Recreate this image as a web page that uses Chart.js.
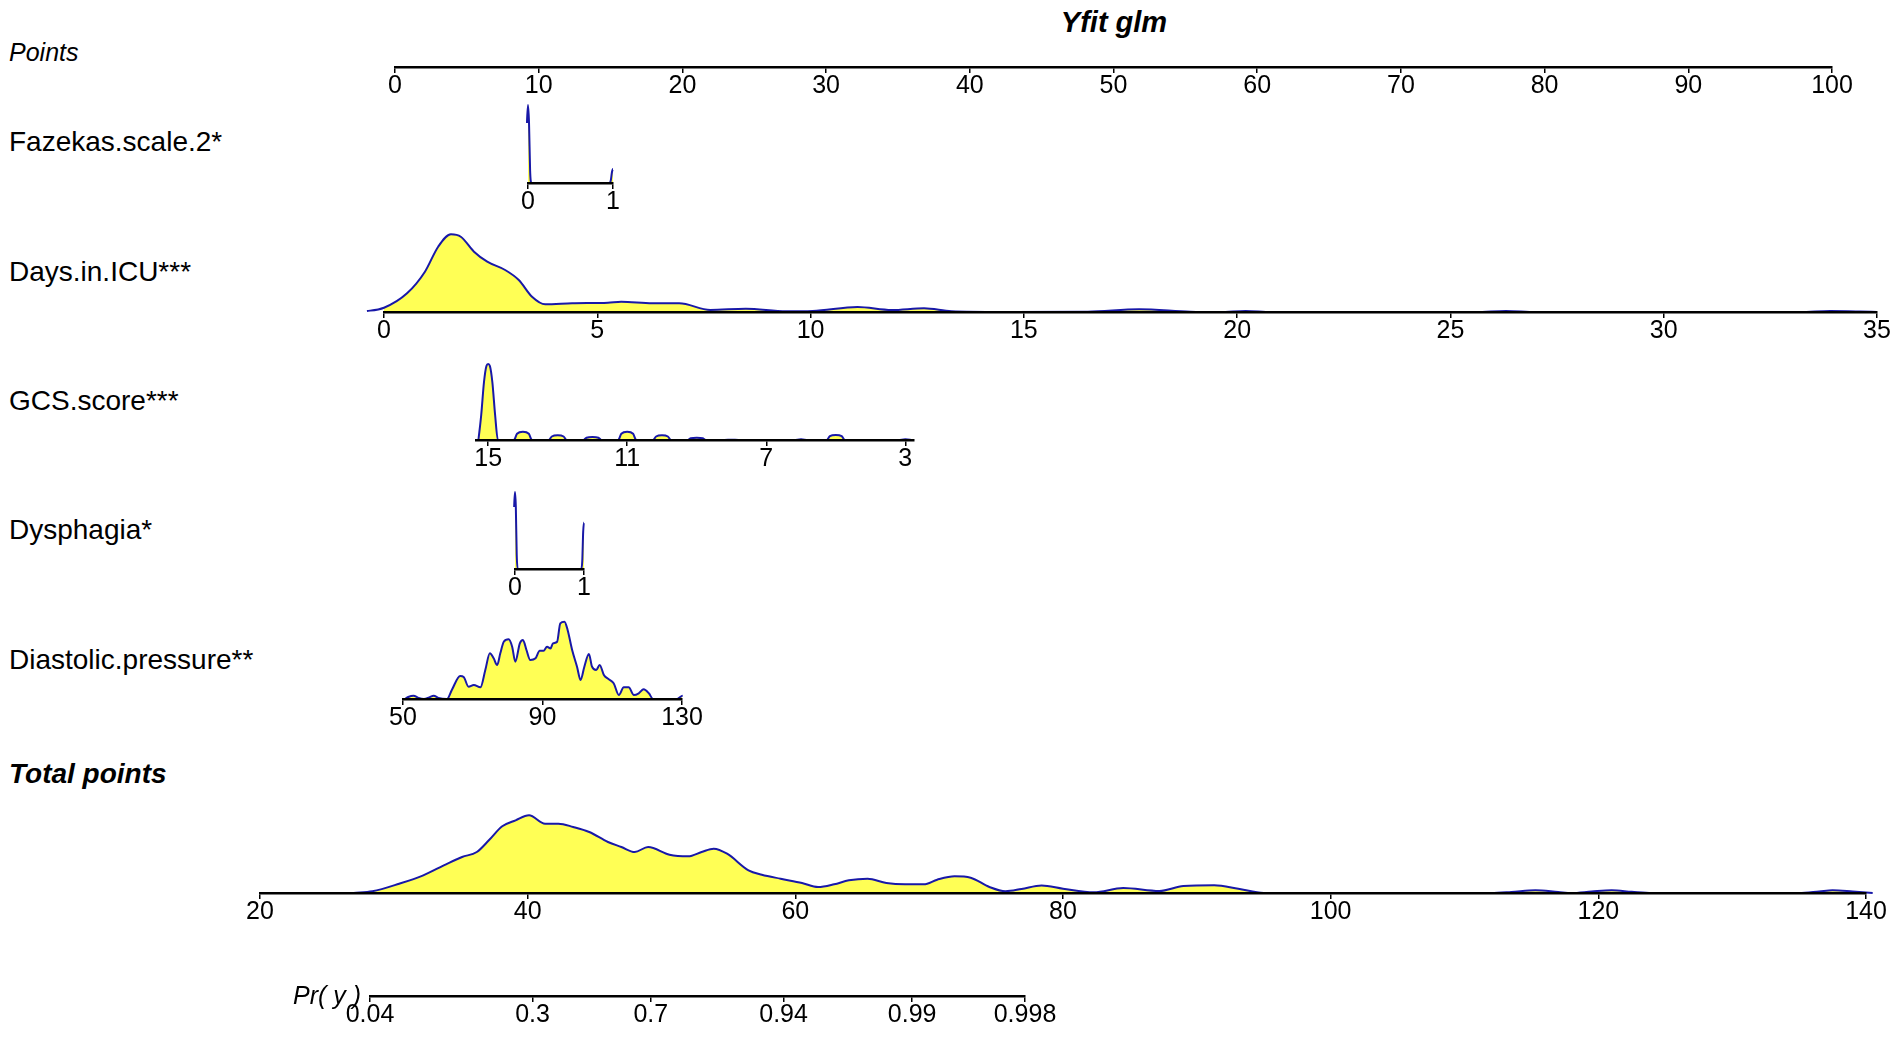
<!DOCTYPE html>
<html>
<head>
<meta charset="utf-8">
<script src="https://cdn.jsdelivr.net/npm/chart.js@4.4.1/dist/chart.umd.min.js"></script>
<style>
  html, body { margin: 0; padding: 0; background: #fff; }
  #page { position: relative; width: 1902px; height: 1037px; overflow: hidden; background: #fff; }
  #page canvas { position: absolute; }
  .lbl { position: absolute; white-space: nowrap; line-height: 1; color: #000;
         font-family: "Liberation Sans", Arial, sans-serif; z-index: 2; }
</style>
</head>
<body>
<div id="page"></div>
<script>
// tick values of each axis
const pointsTicks = [0, 10, 20, 30, 40, 50, 60, 70, 80, 90, 100];
const fazekasTicks = [0, 1];
const daysTicks = [0, 5, 10, 15, 20, 25, 30, 35];
const gcsTicks = [15, 11, 7, 3];
const dysphagiaTicks = [0, 1];
const diastolicTicks = [50, 90, 130];
const totalTicks = [20, 40, 60, 80, 100, 120, 140];
const prTicks = [0.04, 0.3, 0.7, 0.94, 0.99, 0.998];

// density curves [value, density (scaled)]
const fazekasDensity = [[-0.04,0],[-0.025,12],[-0.012,60],[0,78],[0.012,60],[0.025,12],[0.04,0],
  [0.96,0],[0.975,3],[0.988,11],[1,14],[1.012,11],[1.025,3],[1.04,0]];

const daysDensity = [[-0.78,0],[-0.4,1],[0,4.3],[0.54,18.7],[0.96,40.3],[1.27,65.3],[1.57,77.7],[1.8,75.3],
  [2.11,60.3],[2.42,50.3],[2.84,42],[3.16,32],[3.47,15.3],[3.78,7.7],[4.41,8.7],[5.25,9.3],[5.56,10.3],
  [6.29,8.7],[6.92,8.7],[7.65,2],[8.48,3.3],[9.43,0.7],[10.05,1],[11.1,5],[11.9,2],[12.66,3.7],[13.3,0.7],
  [14.5,0],[16.5,0.3],[17.7,2.7],[18.9,0.3],[19.6,0],[20.2,1],[20.8,0],[25.6,0],[26.3,1],[27,0],
  [33.2,0],[33.9,1],[34.6,0.5],[35,0]];

const gcsDensity = [[15.28,0],[15.2,25],[15.12,58],[15.05,74],[15,76],[14.95,74],[14.88,58],[14.8,25],[14.72,0],
  [14.26,0],[14.17,6.2],[14,8.3],[13.83,6.2],[13.74,0],
  [13.26,0],[13.17,3.5],[13,4.7],[12.83,3.5],[12.74,0],
  [12.26,0],[12.17,2.3],[12,3],[11.83,2.3],[11.74,0],
  [11.26,0],[11.17,6.2],[11,8.3],[10.83,6.2],[10.74,0],
  [10.26,0],[10.17,3.5],[10,4.7],[9.83,3.5],[9.74,0],
  [9.26,0],[9.17,1.7],[9,2.3],[8.83,1.7],[8.74,0],
  [8.2,0],[8,0.3],[7.8,0],[6.2,0],[6,0.7],[5.8,0],
  [5.26,0],[5.17,3.8],[5,5],[4.83,3.8],[4.74,0],
  [3.2,0],[3,0.7],[2.8,0]];

const dysphagiaDensity = [[-0.04,0],[-0.025,14],[-0.012,62],[0,77],[0.012,62],[0.025,14],[0.04,0],
  [0.96,0],[0.975,8],[0.988,37],[1,46.6],[1.012,37],[1.025,8],[1.04,0]];

const diastolicDensity = [[50.5,0],[51.5,2],[53,3.3],[54.5,1],[56,0],[57.5,1.5],[58.8,3.3],[60.2,1],[62.6,0],
  [64,9],[66.4,23],[67.4,22],[68.8,12.3],[70.3,14],[72.2,11.7],[73.6,29],[74.9,45.7],[76,40.7],[77,34],
  [77.9,45.7],[78.9,57.3],[80.3,59.7],[81.3,52.3],[82.2,37.3],[83.5,55.7],[84.4,59],[85.4,49],[86.5,39],
  [88,40.7],[89.2,48.3],[90.3,48.3],[91.3,52.3],[92.3,50.5],[93,55.7],[94.2,57.3],[95.1,75.7],[96.3,77.3],
  [97.2,69],[98.5,49],[99.9,32.3],[100.9,19],[102,32.3],[103.3,45],[104.2,32.3],[105.4,29],[106.4,34],
  [107.6,24],[109,19.7],[110.4,15.7],[111.9,4],[113.3,11.7],[114.7,11.7],[116.2,4],[117.6,5.7],[119,9.7],
  [120.5,5.7],[121.7,0],[128.6,0],[130.2,3.3],[131.5,1.5],[132.4,0]];

const totalDensity = [[27,0],[28.4,1.7],[30.4,9.3],[32.2,17.7],[33.9,28.7],[35.1,36],[36.2,41],[37.1,52.7],
  [38.1,66.7],[39.1,72.7],[40.1,77.7],[41.3,69.3],[42.3,69.3],[43.4,66],[44.6,61],[46,51],[47,46],[48,41],
  [49,46],[50.6,38.3],[52,36.7],[53,41],[53.9,44.3],[54.9,39.3],[56.5,22.7],[57.5,18.3],[58.9,14.3],
  [60.5,10],[61.7,6],[62.9,8.7],[64,12.7],[65.4,14.3],[66.8,10],[68.2,8.7],[69.6,8.7],[70.6,13.3],
  [71.9,16.7],[73.1,15.3],[74.5,6],[75.7,1.7],[76.9,4],[78.4,7.5],[80,4.3],[82.3,0.7],[84.5,5],[87.2,2],
  [89,7],[91.3,7.7],[93.1,4.3],[95,0],[112,0],[113.5,1],[115.3,2.7],[117,1],[118,0],[119.5,1.5],[121,2.7],
  [122.5,1.2],[124,0],[135,0],[136.5,1.5],[137.5,2.7],[139,1.5],[140.5,0]];

const FONT = '"Liberation Sans", Arial, sans-serif';
const LINE = '#1818a8';
const FILL = '#ffff55';
const PAD = 40, PADTOP = 5, AXH = 36;

const logit = p => Math.log(p / (1 - p));

// layout of each scale: pixels of first / last tick, and vertical position of the axis
const rows = [
  { ticks: pointsTicks, pxLo: 395, pxHi: 1832, axisY: 67, H: 10 },
  { ticks: fazekasTicks, pxLo: 528, pxHi: 613, axisY: 183, H: 85, data: fazekasDensity },
  { ticks: daysTicks, pxLo: 384, pxHi: 1877, axisY: 312, H: 85, data: daysDensity },
  { ticks: gcsTicks, pxLo: 488, pxHi: 905, axisY: 440, H: 85, data: gcsDensity,
    min: 2.75, max: 15.35, reverse: true },
  { ticks: dysphagiaTicks, pxLo: 515, pxHi: 584, axisY: 569, H: 85, data: dysphagiaDensity },
  { ticks: diastolicTicks, pxLo: 403, pxHi: 682, axisY: 699, H: 85, data: diastolicDensity },
  { ticks: totalTicks, pxLo: 260, pxHi: 1866, axisY: 893, H: 85, data: totalDensity },
  { ticks: prTicks.map(logit), labels: prTicks.map(String), pxLo: 370, pxHi: 1025, axisY: 996, H: 10 }
];

const textLabels = [
  { text: 'Yfit glm', x: 1114, base: 33, size: 29, style: 'italic', weight: 'bold', center: true },
  { text: 'Points', x: 9, base: 61, size: 25, style: 'italic', weight: 'normal' },
  { text: 'Fazekas.scale.2*', x: 9, base: 152, size: 28, style: 'normal', weight: 'normal' },
  { text: 'Days.in.ICU***', x: 9, base: 282, size: 28, style: 'normal', weight: 'normal' },
  { text: 'GCS.score***', x: 9, base: 411, size: 28, style: 'normal', weight: 'normal' },
  { text: 'Dysphagia*', x: 9, base: 540, size: 28, style: 'normal', weight: 'normal' },
  { text: 'Diastolic.pressure**', x: 9, base: 670, size: 28, style: 'normal', weight: 'normal' },
  { text: 'Total points', x: 9, base: 784, size: 28, style: 'italic', weight: 'bold' },
  { text: 'Pr( y )', x: 293, base: 1004, size: 25, style: 'italic', weight: 'normal' }
];

const page = document.getElementById('page');

textLabels.forEach(l => {
  const d = document.createElement('div');
  d.className = 'lbl';
  d.textContent = l.text;
  d.style.fontSize = l.size + 'px';
  d.style.fontStyle = l.style;
  d.style.fontWeight = l.weight;
  d.style.top = (l.base - 0.8465 * l.size) + 'px';
  d.style.left = l.x + 'px';
  if (l.center) d.style.transform = 'translateX(-50%)';
  page.appendChild(d);
});

function drawRow(r) {
  const vLo = r.ticks[0], vHi = r.ticks[r.ticks.length - 1];
  const min = r.min !== undefined ? r.min : Math.min(vLo, vHi);
  const max = r.max !== undefined ? r.max : Math.max(vLo, vHi);
  const k = (r.pxHi - r.pxLo) / (vHi - vLo);
  const px = v => r.pxLo + (v - vLo) * k;
  const left = Math.min(px(min), px(max));
  const right = Math.max(px(min), px(max));
  const labels = r.labels || r.ticks.map(String);

  const cnv = document.createElement('canvas');
  cnv.width = Math.round(right - left) + 2 * PAD;
  cnv.height = PADTOP + r.H + AXH;
  cnv.style.left = (Math.round(left) - PAD) + 'px';
  cnv.style.top = (r.axisY - r.H - PADTOP) + 'px';
  page.appendChild(cnv);

  const datasets = r.data ? [{
    data: r.data.map(p => ({ x: p[0], y: p[1] })),
    borderColor: LINE,
    backgroundColor: FILL,
    borderWidth: 2,
    fill: 'origin',
    pointRadius: 0,
    cubicInterpolationMode: 'monotone',
    clip: false
  }] : [];

  return new Chart(cnv, {
    type: 'line',
    data: { datasets: datasets },
    options: {
      responsive: false,
      animation: false,
      events: [],
      layout: { padding: { left: PAD, right: PAD, top: PADTOP, bottom: 0 } },
      plugins: { legend: { display: false }, tooltip: { enabled: false } },
      scales: {
        x: {
          type: 'linear',
          min: min,
          max: max,
          reverse: !!r.reverse,
          afterBuildTicks: s => { s.ticks = r.ticks.map(v => ({ value: v })); },
          afterFit: s => { s.height = AXH; },
          grid: { drawOnChartArea: false, drawTicks: true, tickLength: 6, color: '#000', lineWidth: 1.5 },
          border: { display: true, color: '#000', width: 2.5, z: 1 },
          ticks: {
            autoSkip: false,
            maxRotation: 0,
            padding: 1,
            color: '#000',
            font: { family: FONT, size: 25, lineHeight: 1 },
            callback: (v, i) => labels[i]
          }
        },
        y: { display: false, min: 0, max: r.H }
      }
    }
  });
}

rows.forEach(drawRow);
</script>
</body>
</html>
